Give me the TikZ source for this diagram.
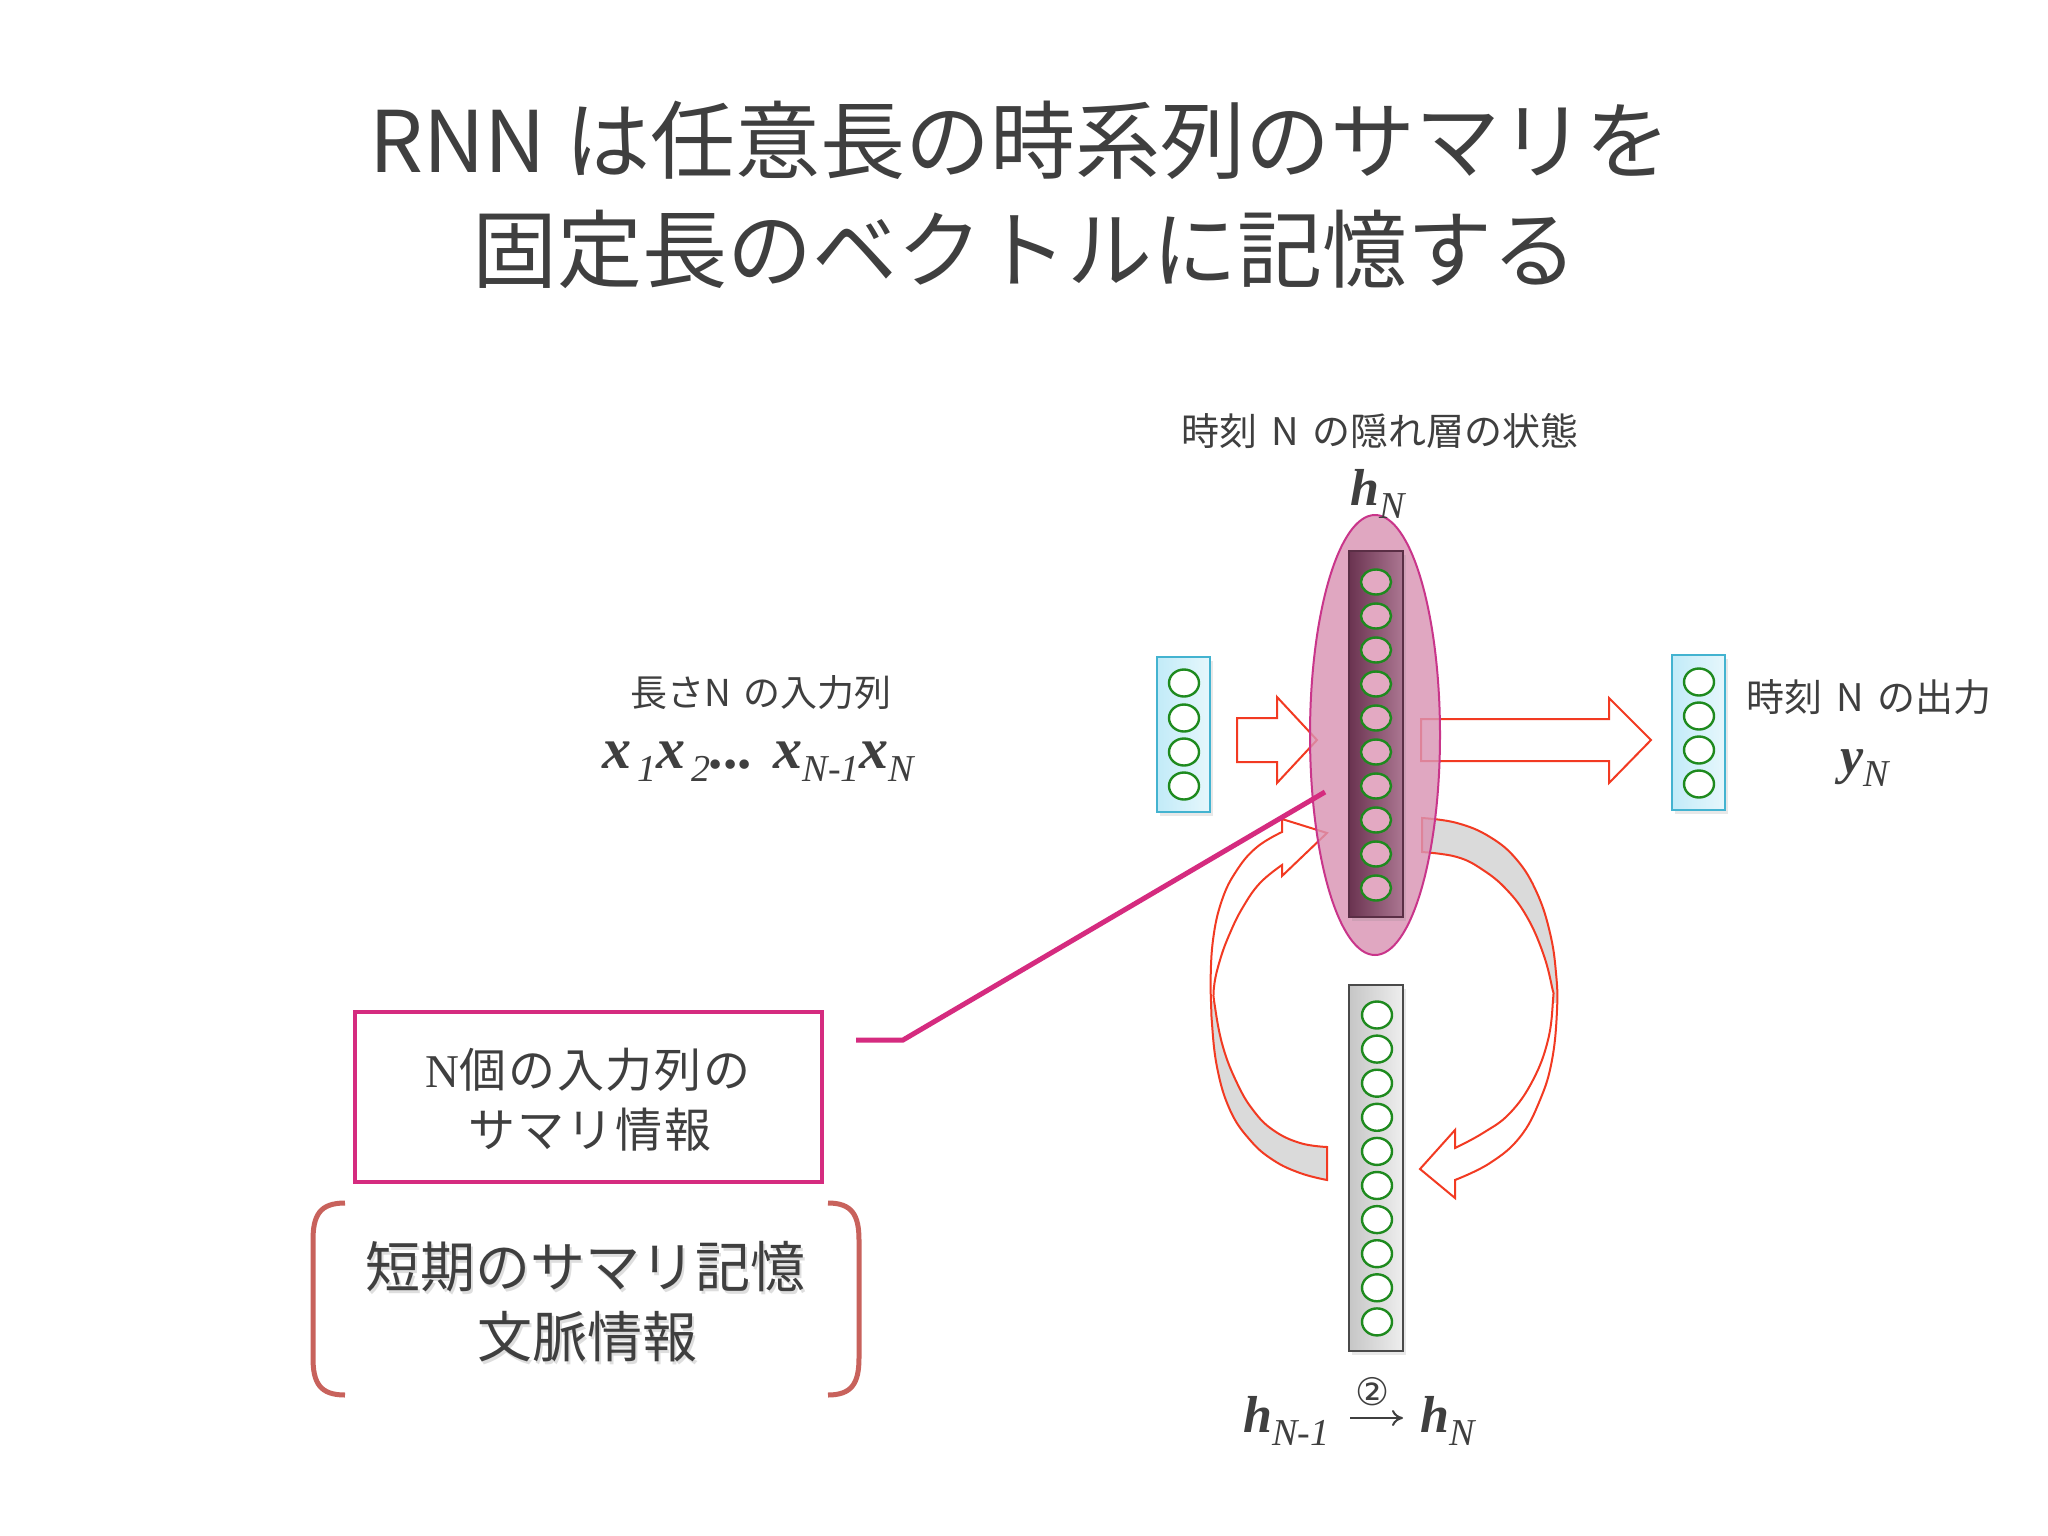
\documentclass[tikz,border=0pt]{standalone}
\usepackage{fontspec}
\setmainfont{Noto Sans CJK JP}
\newfontfamily\tnr{Liberation Serif}
\newfontfamily\djv{DejaVu Sans}
\usetikzlibrary{arrows.meta,shapes.geometric,shadows}
\pgfdeclarelayer{back}
\pgfsetlayers{back,main}
\definecolor{txt}{HTML}{3F3F3F}
\definecolor{cyL}{HTML}{3CA9C9}
\definecolor{cyB}{HTML}{43B3D0}
\definecolor{cyF1}{HTML}{C2EBF8}
\definecolor{cyF2}{HTML}{E6F7FC}
\definecolor{neuG}{HTML}{1E8A1E}
\definecolor{arrR}{HTML}{F23A22}
\definecolor{arrGrey}{HTML}{DADADA}
\definecolor{ellF}{HTML}{DA94B4}
\definecolor{ellD}{HTML}{C9358A}
\definecolor{hidL}{HTML}{6A3350}
\definecolor{hidR}{HTML}{AC7792}
\definecolor{hidD}{HTML}{5A2E45}
\definecolor{hidC}{HTML}{E3A9C2}
\definecolor{mag}{HTML}{D52B7F}
\definecolor{lowL}{HTML}{C6C6C6}
\definecolor{lowR}{HTML}{EEEEEE}
\definecolor{lowD}{HTML}{4A4A4A}
\definecolor{brk}{HTML}{C8625C}
\newcommand\sbs[1]{\raisebox{-13pt}{\fontsize{38}{38}\selectfont\mdseries #1}}
\newcommand\LArrow[1]{\path[#1] (1327,833) -- (1282,819) -- (1282,832) -- plot[smooth,tension=0.7] coordinates {(1282,832) (1257,847) (1237,870) (1222,900) (1213,940) (1210.5,987) (1211.5,1017) (1217,1067) (1230,1110) (1250,1140) (1273,1160) (1300,1173) (1327,1180)} -- (1327,1147) -- plot[smooth,tension=0.7] coordinates {(1327,1147) (1300,1143) (1273,1130) (1253,1110) (1237,1083) (1223,1047) (1215,1007) (1214,987) (1220,960) (1230,933) (1243,907) (1260,883) (1282,865)} -- (1282,876) -- cycle;}
\newcommand\RArrow[1]{\path[#1] (1422,818) -- plot[smooth,tension=0.7] coordinates {(1422,818) (1457,823) (1490,837) (1517,860) (1537,893) (1550,933) (1556,973) (1557,1010) (1552,1060) (1540,1100) (1520,1137) (1490,1163) (1455,1180)} -- (1455,1198) -- (1420,1169) -- (1455,1130) -- (1455,1148) -- plot[smooth,tension=0.7] coordinates {(1455,1148) (1483,1133) (1510,1113) (1533,1080) (1548,1040) (1553,1000) (1552,987) (1543,953) (1527,917) (1507,890) (1483,870) (1457,857) (1422,852)} -- cycle;}
\begin{document}
\begin{tikzpicture}[x=1pt,y=-1pt,
  cyl/.style={draw=cyL,line width=1.8},
  shad/.style={drop shadow={opacity=0.18,shadow xshift=3pt,shadow yshift=-4pt}},
  cbox/.style={rectangle,inner sep=0,minimum width=53,minimum height=155,left color=cyF1,right color=cyF2,draw=cyB,line width=2.5,shad},
  neu/.style={ellipse,inner sep=0,minimum width=30,minimum height=27,fill=white,draw=neuG,line width=2.4},
  blk/.style={draw=arrR,line width=2,fill=white,line join=miter},
  lab/.style={inner sep=0,text=txt,font=\fontsize{38}{40}\selectfont},
  mlab/.style={inner sep=0,anchor=base west,text=txt,font=\tnr\bfseries\itshape\fontsize{52}{52}\selectfont},
  boxtxt/.style={inner sep=0,text=txt,font=\fontsize{47}{50}\selectfont\addfontfeatures{LetterSpace=4}},
  brtxt/.style={inner sep=0,text=txt,font=\fontsize{55}{60}\selectfont}]
\useasboundingbox (0,0) rectangle (2048,1536);
\fill[white] (0,0) rectangle (2048,1536);

% title
\node[inner sep=0,anchor=base,text=txt,font=\fontsize{85}{90}\selectfont] (t1) at (1020,172) {RNN は任意長の時系列のサマリを};
\node[inner sep=0,anchor=base,text=txt,font=\fontsize{85}{90}\selectfont] (t2) at (1025,281) {固定長のベクトルに記憶する};

% input / output layers
\node[cbox] (inbox) at (1183.5,734.5) {};
\node[cbox] (outbox) at (1698.5,732.5) {};
\foreach \i/\y in {1/683,2/718,3/752,4/786} \node[neu] (in\i) at (1184,\y) {};
\foreach \i/\y in {1/682,2/716,3/750,4/784} \node[neu] (out\i) at (1699,\y) {};

% block arrows
\draw[blk] (1237,718) -- (1277,718) -- (1277,697) -- (1317,740) -- (1277,783) -- (1277,762) -- (1237,762) -- cycle;
\draw[blk] (1421,719) -- (1609,719) -- (1609,698) -- (1651,740) -- (1609,783) -- (1609,761) -- (1421,761) -- cycle;

% curved arrows
\LArrow{fill=arrGrey}
\begin{scope}\clip (1100,780) rectangle (1400,1000); \LArrow{fill=white}\end{scope}
\LArrow{draw=arrR,line width=2,line join=miter}
\RArrow{fill=white}
\begin{scope}\clip (1400,780) rectangle (1600,1002); \RArrow{fill=arrGrey}\end{scope}
\RArrow{draw=arrR,line width=2,line join=miter}

% hidden layer
\node[ellipse,inner sep=0,minimum width=130,minimum height=440,fill=ellF,fill opacity=0.82,draw=ellD,line width=2] (ell) at (1375,735) {};
\node[rectangle,inner sep=0,minimum width=54,minimum height=366,left color=hidL,right color=hidR,draw=hidD,line width=2,shad] (hid) at (1376,734) {};
\foreach \k in {0,...,9} \node[neu,fill=hidC,minimum height=25] (hc\k) at (1376,{582+34*\k}) {};

\begin{pgfonlayer}{back}
\draw[cyl] (inbox.north east) -- (hid.north west);
\draw[cyl] (inbox.south east) -- (hid.south west);
\draw[cyl] (hid.north east) -- (outbox.north west);
\draw[cyl] (hid.south east) -- (outbox.south west);
\end{pgfonlayer}

% previous hidden layer
\node[rectangle,inner sep=0,minimum width=54,minimum height=366,left color=lowL,right color=lowR,draw=lowD,line width=2,shad] (low) at (1376,1168) {};
\foreach \k in {0,...,9} \node[neu] (lc\k) at (1377,{1015+34.1*\k}) {};

% callout
\coordinate (cS) at (856,1040);
\coordinate (cB) at (903,1040);
\coordinate (cE) at (1325,792);
\draw[mag,line width=5] (cS) -- (cB) -- (cE);
\node[rectangle,inner sep=0,minimum width=467,minimum height=170,draw=mag,line width=4.5] (sumbox) at (588.5,1097) {};
\node[boxtxt] (sum1) at (588,1070) {{\tnr N}個の入力列の};
\node[boxtxt] (sum2) at (590,1130) {サマリ情報};

% bracket
\draw[brk,line width=5] (345,1203) .. controls (320,1203) and (313,1215) .. (313,1240) -- (313,1358) .. controls (313,1383) and (320,1395) .. (345,1395);
\draw[brk,line width=5] (828,1203) .. controls (852,1203) and (859,1215) .. (859,1240) -- (859,1358) .. controls (859,1383) and (852,1395) .. (828,1395);
\node[brtxt,text=black,text opacity=0.13] (br1s) at (587.5,1270) {短期のサマリ記憶};
\node[brtxt,text=black,text opacity=0.13] (br2s) at (589.5,1340) {文脈情報};
\node[brtxt] (br1) at (585,1267) {短期のサマリ記憶};
\node[brtxt] (br2) at (587,1337) {文脈情報};

% labels
\node[lab] (hidlab) at (1380,431) {時刻\hspace{0.35em}N\hspace{0.35em}の隠れ層の状態};
\node[lab] (outlab) at (1869,697) {時刻\hspace{0.35em}N\hspace{0.35em}の出力};
\node[lab,font=\fontsize{37}{40}\selectfont] (inlab) at (761,693) {長さN\hspace{0.35em}の入力列};

\node[mlab] (hNtop) at (1350,505) {h\sbs{N}};
\node[mlab] (yN) at (1840,773) {y\sbs{N}};
\node[mlab,font=\tnr\bfseries\itshape\fontsize{58}{58}\selectfont] (xseq) at (602,768) {x\sbs{\,1}x\sbs{\,2}... x\sbs{N-1}x\sbs{N}};

\node[mlab] (hNm1) at (1243,1432) {h\sbs{N-1}};
\node[mlab] (hNbot) at (1420,1432) {h\sbs{N}};
\coordinate (ar1) at (1350,1418);
\coordinate (ar2) at (1403,1418);
\draw[txt,line width=2,-{To[length=11pt,width=16pt]}] (ar1) -- (ar2);
\node[inner sep=0,text=txt,font=\djv\fontsize{38}{38}\selectfont] (two) at (1373,1392) {②};
\end{tikzpicture}
\end{document}
